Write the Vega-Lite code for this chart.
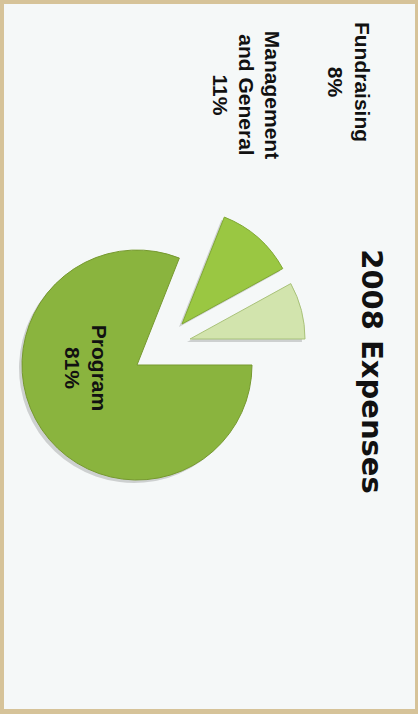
{
  "$schema": "https://vega.github.io/schema/vega-lite/v6.json",
  "width": 418,
  "height": 714,
  "autosize": {"type": "fit", "contains": "padding"},
  "padding": {"left": 4, "top": 4, "right": 3, "bottom": 5},
  "background": "#d6c399",
  "view": {"fill": "#f5f8f8", "stroke": null},
  "data": {
    "values": [
      {"category": "Program", "label": "Program\n81%", "value": 81, "order": 1},
      {"category": "Management and General", "label": "Management\nand General\n11%", "value": 11, "order": 2},
      {"category": "Fundraising", "label": "Fundraising\n8%", "value": 8, "order": 3}
    ]
  },
  "transform": [
    {"stack": "value", "groupby": [], "sort": [{"field": "order", "order": "ascending"}], "as": ["v0", "v1"]}
  ],
  "encoding": {
    "theta": {"field": "v0", "type": "quantitative", "stack": null, "scale": {"domain": [0, 100], "range": [1.5708, 7.854]}},
    "theta2": {"field": "v1"}
  },
  "layer": [
    {
      "transform": [{"filter": "datum.category === 'Program'"}],
      "mark": {"type": "arc", "radius": 115, "xOffset": -75.5, "yOffset": 11.5, "fill": "#000000", "opacity": 0.16}
    },
    {
      "transform": [{"filter": "datum.category === 'Program'"}],
      "mark": {"type": "arc", "radius": 115, "xOffset": -72.5, "yOffset": 8.5, "stroke": "#76992f", "strokeWidth": 1},
      "encoding": {"color": {"field": "category", "type": "nominal", "legend": null, "scale": {"domain": ["Program", "Management and General", "Fundraising"], "range": ["#8ab43e", "#9ac742", "#d2e4ad"]}}}
    },
    {
      "transform": [{"filter": "datum.category === 'Management and General'"}],
      "mark": {"type": "arc", "radius": 115, "xOffset": -30.5, "yOffset": -29.5, "fill": "#000000", "opacity": 0.16}
    },
    {
      "transform": [{"filter": "datum.category === 'Management and General'"}],
      "mark": {"type": "arc", "radius": 115, "xOffset": -27.5, "yOffset": -32.5, "stroke": "#80a834", "strokeWidth": 1},
      "encoding": {"color": {"field": "category", "type": "nominal", "legend": null, "scale": {"domain": ["Program", "Management and General", "Fundraising"], "range": ["#8ab43e", "#9ac742", "#d2e4ad"]}}}
    },
    {
      "transform": [{"filter": "datum.category === 'Fundraising'"}],
      "mark": {"type": "arc", "radius": 115, "xOffset": -22.5, "yOffset": -14.5, "fill": "#000000", "opacity": 0.16}
    },
    {
      "transform": [{"filter": "datum.category === 'Fundraising'"}],
      "mark": {"type": "arc", "radius": 115, "xOffset": -19.5, "yOffset": -17.5, "stroke": "#a9c27a", "strokeWidth": 1},
      "encoding": {"color": {"field": "category", "type": "nominal", "legend": null, "scale": {"domain": ["Program", "Management and General", "Fundraising"], "range": ["#8ab43e", "#9ac742", "#d2e4ad"]}}}
    },
    {
      "transform": [{"filter": "datum.category === 'Program'"}],
      "mark": {"type": "text", "angle": 90, "align": "center", "baseline": "top", "lineBreak": "\n", "lineHeight": 27, "font": "Liberation Sans", "fontWeight": "bold", "fontSize": 21, "color": "#111111", "xOffset": -101, "yOffset": 11.5},
      "encoding": {"text": {"field": "label"}, "theta": null, "theta2": null}
    },
    {
      "transform": [{"filter": "datum.category === 'Fundraising'"}],
      "mark": {"type": "text", "angle": 90, "align": "center", "baseline": "top", "lineBreak": "\n", "lineHeight": 27, "font": "Liberation Sans", "fontWeight": "bold", "fontSize": 21, "color": "#111111", "xOffset": 162, "yOffset": -274.5},
      "encoding": {"text": {"field": "label"}, "theta": null, "theta2": null}
    },
    {
      "transform": [{"filter": "datum.category === 'Management and General'"}],
      "mark": {"type": "text", "angle": 90, "align": "center", "baseline": "top", "lineBreak": "\n", "lineHeight": 26, "font": "Liberation Sans", "fontWeight": "bold", "fontSize": 21, "color": "#111111", "xOffset": 72, "yOffset": -261.5},
      "encoding": {"text": {"field": "label"}, "theta": null, "theta2": null}
    },
    {
      "data": {"values": [{"title": "2008 Expenses"}]},
      "transform": [],
      "mark": {"type": "text", "angle": 90, "align": "center", "baseline": "top", "font": "DejaVu Sans", "fontWeight": "bold", "fontSize": 29, "color": "#111111", "xOffset": 175.5, "yOffset": 15},
      "encoding": {"text": {"field": "title"}, "theta": null, "theta2": null}
    }
  ]
}
